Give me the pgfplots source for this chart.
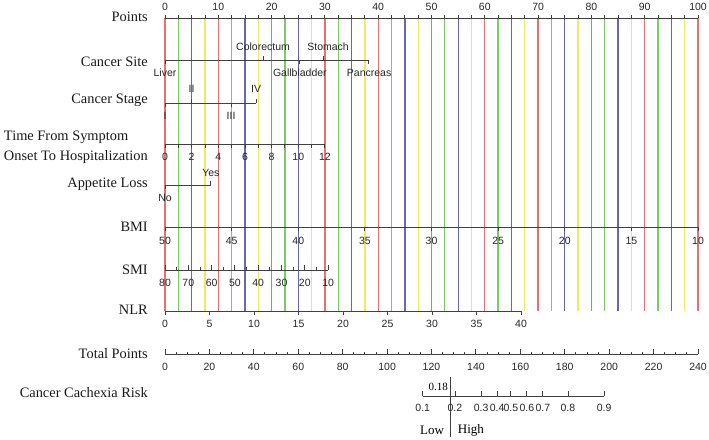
\documentclass[border=0pt]{standalone}
\usepackage{fontspec}
\setmainfont{Liberation Serif}
\setsansfont{Liberation Sans}
\usepackage{pgfplots}
\pgfplotsset{compat=1.18}
\definecolor{cR}{RGB}{232,112,112}
\definecolor{cG}{RGB}{120,204,100}
\definecolor{cB}{RGB}{102,102,184}
\definecolor{cY}{RGB}{240,232,96}
\tikzset{
  axl/.style={draw=black!75, line width=0.9pt},
  grd/.style={line width=1.3pt},
  lab/.style={font=\fontsize{10.5}{12}\sffamily\selectfont, text=black!85, inner sep=0pt},
  rl/.style={font=\fontsize{14.4}{20}\selectfont, anchor=east, inner sep=0pt, align=left, text=black!90},
}
\newcommand{\tk}[3]{\addplot[axl] coordinates {(#1,#2) (#1,#3)};}
\newcommand{\lb}[3]{\node[lab] at (axis cs:#1,#2) {#3};}
\begin{document}
\begin{tikzpicture}
\begin{axis}[
  scale only axis, width=709pt, height=439pt,
  xmin=-30.957, xmax=102.064, ymin=0, ymax=439, y dir=reverse,
  hide axis, clip=false,
]
\addplot[draw=none] coordinates {(-30.957,0) (102.064,439)};
% coloured reference lines
\pgfplotsinvokeforeach{0,10,...,100}{\addplot[grd, cR] coordinates {(#1,18) (#1,311)};}
\pgfplotsinvokeforeach{2.5,12.5,...,92.5}{\addplot[grd, cG] coordinates {(#1,18) (#1,311)};}
\pgfplotsinvokeforeach{5,15,...,95}{\addplot[grd, cB] coordinates {(#1,18) (#1,311)};}
\pgfplotsinvokeforeach{7.5,17.5,...,97.5}{\addplot[grd, cY] coordinates {(#1,18) (#1,311)};}

% Points
\addplot[axl] coordinates {(0,18) (100,18)};
\pgfplotsinvokeforeach{0,2.5,...,100}{\tk{#1}{18}{15}}
\pgfplotsinvokeforeach{0,10,...,100}{\lb{#1}{7}{#1}}
\node[rl] at (axis cs:-3.2,17) {Points};

% Cancer Site
\addplot[axl] coordinates {(0,60) (38.1,60)};
\tk{0}{60}{64} \tk{18.4}{60}{56} \tk{25.3}{60}{64} \tk{29.8}{60}{56} \tk{38.1}{60}{64}
\lb{0}{73}{Liver} \lb{18.4}{47}{Colorectum} \lb{25.3}{73}{Gallbladder}
\lb{30.6}{47}{Stomach} \lb{38.3}{73}{Pancreas}
\node[rl] at (axis cs:-3.2,62) {Cancer Site};

% Cancer Stage
\addplot[axl] coordinates {(0,103) (17.1,103)};
\tk{0}{103}{107} \tk{5}{103}{99} \tk{12.4}{103}{107} \tk{17.1}{103}{99}
\lb{0}{116}{I} \lb{5}{89}{II} \lb{12.4}{116}{III} \lb{17.1}{89}{IV}
\node[rl] at (axis cs:-3.2,100) {Cancer Stage};

% Time from symptom onset
\addplot[axl] coordinates {(0,144) (30,144)};
\pgfplotsinvokeforeach{0,2.5,...,30}{\tk{#1}{144}{148}}
\lb{0}{157}{0} \lb{5}{157}{2} \lb{10}{157}{4} \lb{15}{157}{6}
\lb{20}{157}{8} \lb{25}{157}{10} \lb{30}{157}{12}
\node[rl] at (axis cs:-3.2,147) {Time From Symptom\\Onset To Hospitalization};

% Appetite loss
\addplot[axl] coordinates {(0,185) (8.6,185)};
\tk{0}{185}{189} \tk{8.6}{185}{181}
\lb{0}{198}{No} \lb{8.6}{173}{Yes}
\node[rl] at (axis cs:-3.2,184) {Appetite Loss};

% BMI
\addplot[axl] coordinates {(0,227) (100,227)};
\pgfplotsinvokeforeach{0,12.5,...,100}{\tk{#1}{227}{231}}
\lb{0}{241}{50} \lb{12.5}{241}{45} \lb{25}{241}{40} \lb{37.5}{241}{35}
\lb{50}{241}{30} \lb{62.5}{241}{25} \lb{75}{241}{20} \lb{87.5}{241}{15} \lb{100}{241}{10}
\node[rl] at (axis cs:-3.2,227) {BMI};

% SMI
\addplot[axl] coordinates {(0,270) (30.6,270)};
\tk{0}{270}{265} \tk{2.186}{270}{267} \tk{4.371}{270}{265} \tk{6.557}{270}{267}
\tk{8.743}{270}{265} \tk{10.93}{270}{267} \tk{13.11}{270}{265} \tk{15.30}{270}{267}
\tk{17.49}{270}{265} \tk{19.67}{270}{267} \tk{21.86}{270}{265} \tk{24.04}{270}{267}
\tk{26.23}{270}{265} \tk{28.41}{270}{267} \tk{30.6}{270}{265}
\lb{0}{283}{80} \lb{4.371}{283}{70} \lb{8.743}{283}{60} \lb{13.11}{283}{50}
\lb{17.49}{283}{40} \lb{21.86}{283}{30} \lb{26.23}{283}{20} \lb{30.6}{283}{10}
\node[rl] at (axis cs:-3.2,270) {SMI};

% NLR
\addplot[axl] coordinates {(0,311) (66.8,311)};
\tk{0}{311}{315} \tk{8.35}{311}{315} \tk{16.7}{311}{315} \tk{25.05}{311}{315}
\tk{33.4}{311}{315} \tk{41.75}{311}{315} \tk{50.1}{311}{315} \tk{58.45}{311}{315} \tk{66.8}{311}{315}
\lb{0}{324}{0} \lb{8.35}{324}{5} \lb{16.7}{324}{10} \lb{25.05}{324}{15}
\lb{33.4}{324}{20} \lb{41.75}{324}{25} \lb{50.1}{324}{30} \lb{58.45}{324}{35} \lb{66.8}{324}{40}
\node[rl] at (axis cs:-3.2,310) {NLR};

% Total Points
\addplot[axl] coordinates {(0,354) (100,354)};
\pgfplotsinvokeforeach{0,2.0833,...,100}{\tk{#1}{354}{351.5}}
\pgfplotsinvokeforeach{0,8.3333,...,100}{\tk{#1}{354}{349}}
\lb{0}{367}{0} \lb{8.333}{367}{20} \lb{16.667}{367}{40} \lb{25}{367}{60}
\lb{33.333}{367}{80} \lb{41.667}{367}{100} \lb{50}{367}{120} \lb{58.333}{367}{140}
\lb{66.667}{367}{160} \lb{75}{367}{180} \lb{83.333}{367}{200} \lb{91.667}{367}{220} \lb{100}{367}{240}
\node[rl] at (axis cs:-3.2,354) {Total Points};

% Risk
\addplot[axl] coordinates {(48.35,396) (82.4,396)};
\tk{48.35}{396}{391} \tk{54.4}{396}{391} \tk{59.3}{396}{391} \tk{62.3}{396}{391}
\tk{64.9}{396}{391} \tk{67.9}{396}{391} \tk{70.9}{396}{391} \tk{75.6}{396}{391} \tk{82.4}{396}{391}
\lb{48.35}{408}{0.1} \lb{54.4}{408}{0.2} \lb{59.3}{408}{0.3} \lb{62.3}{408}{0.4}
\lb{64.9}{408}{0.5} \lb{67.9}{408}{0.6} \lb{70.9}{408}{0.7} \lb{75.6}{408}{0.8} \lb{82.4}{408}{0.9}
\node[rl] at (axis cs:-3.2,393) {Cancer Cachexia Risk};

% cut-off 0.18
\addplot[axl] coordinates {(53.56,377) (53.56,437)};
\node[font=\fontsize{11}{12}\selectfont, anchor=east, inner sep=0pt] at (axis cs:53.1,387) {0.18};
\node[font=\fontsize{13}{14}\selectfont, inner sep=0pt] at (axis cs:50.1,430) {Low};
\node[font=\fontsize{13}{14}\selectfont, inner sep=0pt] at (axis cs:57.4,430) {High};
\end{axis}
\end{tikzpicture}
\end{document}
